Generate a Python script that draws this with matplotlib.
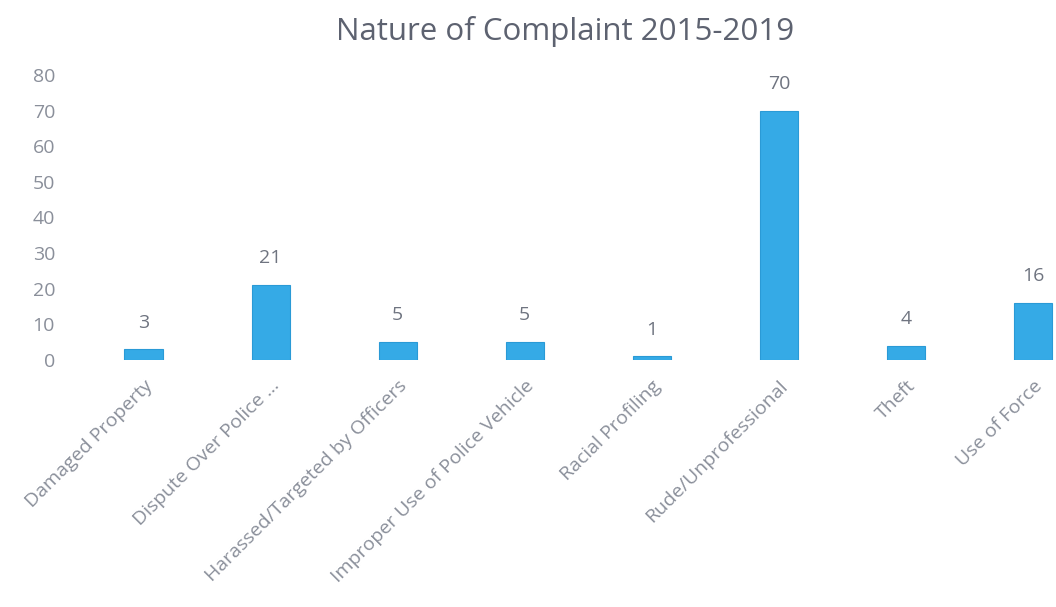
import matplotlib
matplotlib.use("Agg")
import matplotlib.pyplot as plt

categories = ["Damaged Property", "Dispute Over Police …", "Harassed/Targeted by Officers",
              "Improper Use of Police Vehicle", "Racial Profiling", "Rude/Unprofessional",
              "Theft", "Use of Force"]
values = [3, 21, 5, 5, 1, 70, 4, 16]
yticks = [0, 10, 20, 30, 40, 50, 60, 70, 80]
title = "Nature of Complaint 2015-2019"

plt.rcParams['font.family'] = ['Open Sans', 'DejaVu Sans']
grey = "#8a8f9a"

fig = plt.figure(figsize=(10.56, 6.07), dpi=100)
ax = fig.add_axes([80/1056, (607-360)/607, 1 - 80/1056, (360-75)/607])
x = list(range(len(categories)))
bars = ax.bar(x, values, width=0.3, color="#35aae6", edgecolor="#2a9ad6", linewidth=0.8)
for xi, v in zip(x, values):
    ax.text(xi, v + 5, str(v), ha="center", va="bottom", fontsize=14, color="#6f7480")
ax.set_xlim(-0.5, 7.18)
ax.set_ylim(0, 80)
ax.set_yticks(yticks)
ax.set_yticklabels([str(t) for t in yticks], fontsize=14, color=grey)
ax.set_xticks(x)
ax.set_xticklabels(categories, rotation=45, ha="right", rotation_mode="anchor",
                   fontsize=14, color=grey)
ax.tick_params(axis="both", length=0)
ax.tick_params(axis="y", pad=18)
ax.tick_params(axis="x", pad=12)
for s in ax.spines.values():
    s.set_visible(False)
fig.text(0.535, 0.948, title, ha="center", va="center", fontsize=22.5, color="#5d6270")
fig.savefig("out.png", dpi=100, facecolor="white")
